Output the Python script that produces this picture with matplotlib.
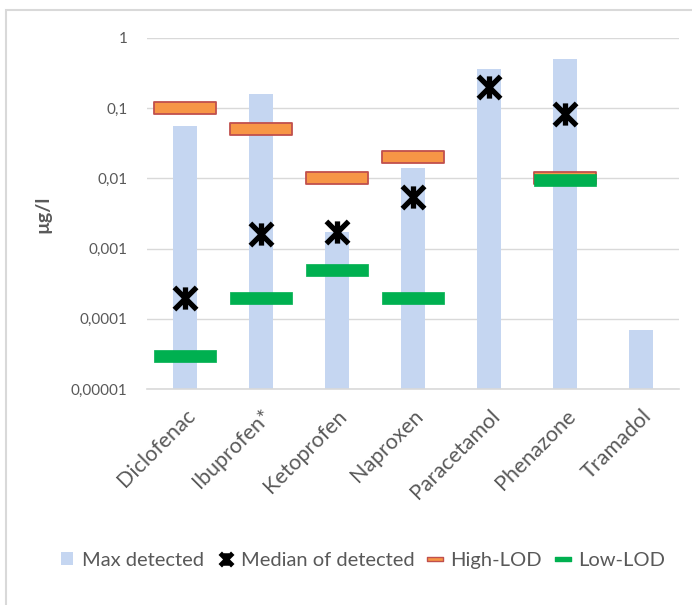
import matplotlib.pyplot as plt
import numpy as np
from matplotlib.path import Path
from matplotlib.lines import Line2D
from matplotlib.patches import Patch, Rectangle
from matplotlib.ticker import FixedLocator, NullLocator

plt.rcParams['font.family'] = ['Lato', 'DejaVu Sans']

# data (µg/l)
substances = ['Diclofenac', 'Ibuprofen*', 'Ketoprofen', 'Naproxen',
              'Paracetamol', 'Phenazone', 'Tramadol']
max_detected = [0.055, 0.16, 0.0017, 0.014, 0.36, 0.5, 0.00007]
median_detected = [0.0002, 0.0016, 0.0017, 0.0055, 0.2, 0.083, np.nan]
high_lod = [0.1, 0.05, 0.01, 0.02, np.nan, 0.0102, np.nan]
low_lod = [0.00003, 0.0002, 0.0005, 0.0002, np.nan, 0.0095, np.nan]
ytick_vals = [0.00001, 0.0001, 0.001, 0.01, 0.1, 1]
ytick_labels = ['0,00001', '0,0001', '0,001', '0,01', '0,1', '1']

bar_color = '#C5D6F1'
orange = '#F79646'
red_edge = '#C0504D'
green = '#00B050'
text_gray = '#595959'
grid_gray = '#D9D9D9'

# wide flat rectangle marker for the LOD series
rect_marker = Path([(-1, -0.206), (1, -0.206), (1, 0.206), (-1, 0.206), (-1, -0.206)],
                   [Path.MOVETO, Path.LINETO, Path.LINETO, Path.LINETO, Path.CLOSEPOLY])
# X with a vertical stroke (Excel "star")
star_marker = Path([(-1, -1), (1, 1), (-1, 1), (1, -1), (0, -1), (0, 1)],
                   [Path.MOVETO, Path.LINETO, Path.MOVETO, Path.LINETO, Path.MOVETO, Path.LINETO])

fig = plt.figure(figsize=(6.92, 6.05), dpi=100)
ax = fig.add_axes([0.212, 0.357, 0.7697, 0.5802])

x = np.arange(len(substances))
ax.bar(x, max_detected, width=0.31, color=bar_color, zorder=2)
ax.plot(x, median_detected, linestyle='none', marker=star_marker, markersize=16,
        markeredgewidth=3.8, markeredgecolor='black', markerfacecolor='none', zorder=3)
ax.plot(x, high_lod, linestyle='none', marker=rect_marker, markersize=45,
        markerfacecolor=orange, markeredgecolor=red_edge, markeredgewidth=1.3, zorder=4)
ax.plot(x, low_lod, linestyle='none', marker=rect_marker, markersize=45,
        markerfacecolor=green, markeredgecolor=green, markeredgewidth=0.5, zorder=5)

ax.set_yscale('log')
ax.set_ylim(0.00001, 1)
ax.set_xlim(-0.5, len(substances) - 0.5)
ax.yaxis.set_major_locator(FixedLocator(ytick_vals))
ax.yaxis.set_minor_locator(NullLocator())
ax.set_yticks(ytick_vals)
ax.set_yticklabels(ytick_labels)
ax.set_xticks(x)
ax.set_xticklabels(substances, rotation=45, ha='right', va='top', rotation_mode='anchor')
ax.tick_params(axis='both', length=0, colors=text_gray)
ax.tick_params(axis='y', labelsize=11, pad=14)
ax.tick_params(axis='x', labelsize=15.5, pad=12)
ax.grid(axis='y', color=grid_gray, linewidth=1, zorder=0)
for s in ['top', 'right', 'left']:
    ax.spines[s].set_visible(False)
ax.spines['bottom'].set_color(grid_gray)
ax.spines['bottom'].set_linewidth(1.2)
ax.set_axisbelow(True)

fig.text(0.062, 0.645, 'µg/l', rotation=90, ha='center', va='center',
         fontsize=14, fontweight='bold', color=text_gray)

# chart frame
fig.patches.append(Rectangle((6 / 692, -0.01), 1.0, 1 - 10 / 605 + 0.01,
                             transform=fig.transFigure, fill=False,
                             edgecolor=grid_gray, linewidth=1.5))

handles = [
    Patch(facecolor=bar_color, edgecolor='none'),
    Line2D([], [], linestyle='none', marker=star_marker, markersize=9,
           markeredgewidth=3.5, markeredgecolor='black'),
    Line2D([], [], linestyle='none', marker=rect_marker, markersize=11,
           markerfacecolor=orange, markeredgecolor=red_edge, markeredgewidth=1),
    Line2D([], [], linestyle='none', marker=rect_marker, markersize=11,
           markerfacecolor=green, markeredgecolor=green, markeredgewidth=1),
]
labels = ['Max detected', 'Median of detected', 'High-LOD', 'Low-LOD']
leg = fig.legend(handles, labels, loc='center', bbox_to_anchor=(0.525, 0.074),
                 ncol=4, frameon=False, fontsize=14.5, handlelength=0.6,
                 handleheight=0.6, handletextpad=0.45, columnspacing=0.75)
for t in leg.get_texts():
    t.set_color(text_gray)

fig.savefig('out.png', dpi=100)
